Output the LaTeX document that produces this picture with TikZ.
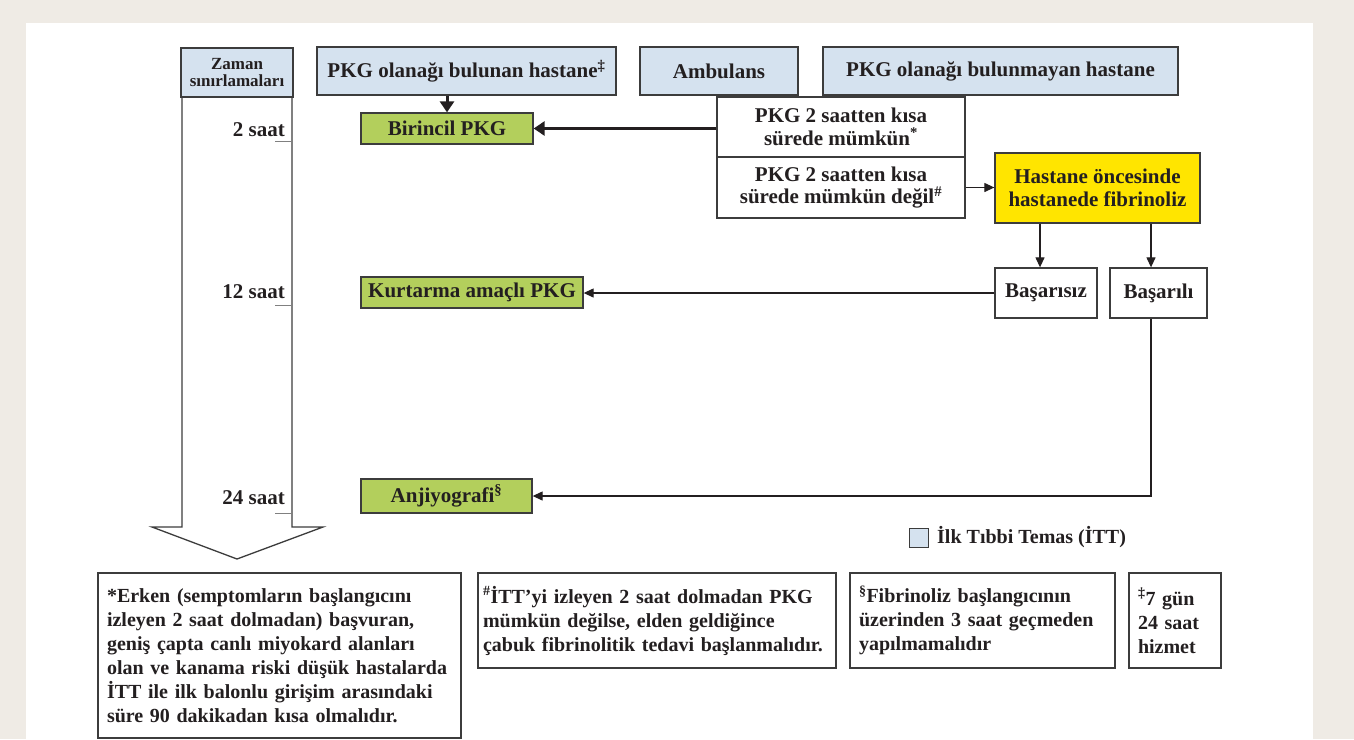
\documentclass[tikz,border=0pt]{standalone}
\usepackage{fontspec}
\setmainfont{Liberation Serif}
\usetikzlibrary{positioning, arrows.meta, calc}
\definecolor{pagebg}{HTML}{EFEBE5}
\definecolor{ittblue}{HTML}{D5E2EF}
\definecolor{pkggreen}{HTML}{B3CF5C}
\definecolor{fibyellow}{HTML}{FFE500}
\definecolor{ink}{HTML}{231F20}
\definecolor{boxline}{HTML}{3C3C3C}

\begin{document}
\begin{tikzpicture}[x=1pt, y=-1pt,
    every node/.style={font=\bfseries\fontsize{21}{22.5}\selectfont, text=ink},
    box/.style={draw=boxline, line width=1.3pt, inner sep=0pt, align=center},
    itt/.style={box, fill=ittblue, minimum height=48pt},
    pkg/.style={box, fill=pkggreen},
    note/.style={box, align=left, inner xsep=9pt, font=\bfseries\fontsize{20}{24}\selectfont,
        execute at begin node={\hyphenpenalty=10000\relax}},
    arrow/.style={-{Triangle[length=10pt,width=9pt]}, line width=1.2pt, draw=ink},
    bigarrow/.style={-{Triangle[length=11pt,width=14pt]}, line width=3pt, draw=ink},
    hourtick/.style={draw=gray, line width=1pt},
    hour/.style={anchor=base east, inner sep=0pt}]

    \useasboundingbox (0,0) rectangle (1354,739);
    \fill[pagebg] (0,0) rectangle (1354,739);
    \fill[white] (26,23) rectangle (1313,739);

    \draw[boxline, line width=1.3pt, fill=white]
        (182,97) -- (182,527) -- (152,527) -- (237,559) -- (323,527) -- (292,527) -- (292,97);
    \node[itt, minimum width=112pt, minimum height=49pt, font=\bfseries\fontsize{17}{16.5}\selectfont] (zaman) at (237,72.5) {Zaman\\sınırlamaları};

    \draw[hourtick] (275,141) -- (292,141);
    \draw[hourtick] (275,305) -- (292,305);
    \draw[hourtick] (275,513) -- (292,513);
    \node[hour] (h2) at (285,136) {2 saat};
    \node[hour] (h12) at (285,298) {12 saat};
    \node[hour] (h24) at (285,504) {24 saat};

    \node[itt, minimum width=299pt] (withpkg) at (466.5,71) {PKG olanağı bulunan hastane\textsuperscript{‡}};
    \node[itt, minimum width=158pt] (amb) at (719,71) {Ambulans};
    \node[itt, minimum width=355pt] (nopkg) at (1000.5,71) {PKG olanağı bulunmayan hastane};

    \node[box, fill=white, minimum width=248pt, minimum height=60pt] (fast) at (841,127) {PKG 2 saatten kısa\\sürede mümkün\textsuperscript{*}};
    \node[box, fill=white, minimum width=248pt, minimum height=61pt] (slow) at (841,187.5) {PKG 2 saatten kısa\\sürede mümkün değil\textsuperscript{\#}};
    \node[box, fill=fibyellow, minimum width=205pt, minimum height=70pt] (fib) at (1097.5,188) {Hastane öncesinde\\hastanede fibrinoliz};
    \node[box, fill=white, minimum width=102pt, minimum height=50pt] (bsz) at (1046,293) {Başarısız};
    \node[box, fill=white, minimum width=97pt, minimum height=50pt] (bsl) at (1158.5,293) {Başarılı};

    \node[pkg, minimum width=172pt, minimum height=31pt] (first) at (447,128.5) {Birincil PKG};
    \node[pkg, minimum width=222pt, minimum height=31pt] (rescue) at (472,292.5) {Kurtarma amaçlı PKG};
    \node[pkg, minimum width=171pt, minimum height=34pt] (angio) at (446.5,496) {Anjiyografi\textsuperscript{§}};

    \coordinate (fa) at ($(bsz.north)+(-6,0)$);
    \coordinate (fb) at ($(bsl.north)+(-7.5,0)$);

    \draw[bigarrow] (first.north |- withpkg.south) -- (first.north);
    \draw[bigarrow] (fast.west |- first.east) -- (first.east);
    \draw[arrow] (slow.east) -- (fib.west |- slow.east);
    \draw[arrow] (fa |- fib.south) -- (fa);
    \draw[arrow] (fb |- fib.south) -- (fb);
    \draw[arrow] (bsz.west) -- (rescue.east |- bsz.west);
    \draw[arrow] (fb |- bsl.south) |- (angio.east);

    \node[draw=boxline, fill=ittblue, line width=1pt, minimum size=19pt, inner sep=0pt] (key) at (919,537.5) {};
    \node[right=8pt of key, inner sep=0pt, font=\bfseries\fontsize{20}{22}\selectfont] (keytext) {İlk Tıbbi Temas (İTT)};

    \node[note, text width=345pt, minimum height=165pt] (early) at (279.5,655.5)
        {*Erken (semptomların başlangıcını izleyen 2 saat dolmadan) başvuran, geniş çapta canlı miyokard alanları olan ve kanama riski düşük hastalarda İTT ile ilk balonlu girişim arasındaki süre 90 dakikadan kısa olmalıdır.};
    \node[note, inner xsep=5pt, text width=348pt, minimum height=95pt] (late) at (657,620.5)
        {\textsuperscript{\#}İTT’yi izleyen 2 saat dolmadan PKG mümkün değilse, elden geldiğince\\çabuk fibrinolitik tedavi başlanmalıdır.};
    \node[note, text width=247pt, minimum height=95pt] (afterfib) at (982.5,620.5)
        {\textsuperscript{§}Fibrinoliz başlangıcının üzerinden 3 saat geçmeden yapılmamalıdır};
    \node[note, text width=74pt, minimum height=95pt] (service) at (1175,620.5)
        {\textsuperscript{‡}7 gün\\24 saat\\hizmet};
\end{tikzpicture}
\end{document}
